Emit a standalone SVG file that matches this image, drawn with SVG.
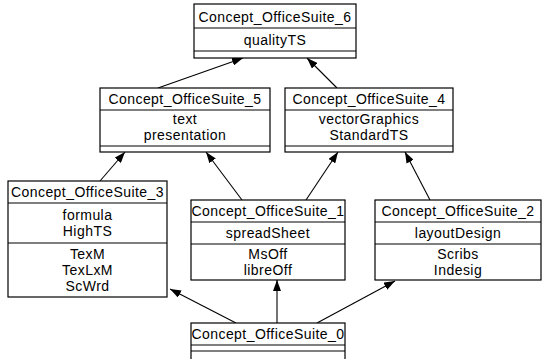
<svg xmlns="http://www.w3.org/2000/svg" width="544" height="359" viewBox="0 0 544 359">
<defs>
<marker id="ah" viewBox="0 0 11 8" refX="11" refY="4" markerWidth="11" markerHeight="8" markerUnits="userSpaceOnUse" orient="auto">
<path d="M0,0 L11,4 L0,8 z" fill="#000"/>
</marker>
<style>
rect{fill:#fff;stroke:#000;stroke-width:1.2}
line.s{stroke:#000;stroke-width:1.2}
text{font-family:"Liberation Sans",Arial,sans-serif;font-size:14px;letter-spacing:0.45px;fill:#000;text-anchor:middle}
#edges line{stroke:#000;stroke-width:1.1;marker-end:url(#ah)}
</style>
</defs>
<rect x="0" y="0" width="544" height="359" style="stroke:none"/>
<g id="edges">
<line x1="158" y1="88" x2="243" y2="58"/>
<line x1="337" y1="88" x2="307" y2="58"/>
<line x1="100" y1="181" x2="125" y2="152"/>
<line x1="242" y1="200" x2="206" y2="152"/>
<line x1="306" y1="200" x2="338" y2="152"/>
<line x1="430" y1="200" x2="405" y2="152"/>
<line x1="236" y1="323" x2="170" y2="289"/>
<line x1="277" y1="323" x2="277" y2="280"/>
<line x1="317" y1="323" x2="395" y2="281"/>
</g>
<g id="node6">
<rect x="194" y="4" width="162" height="54"/>
<line class="s" x1="194" y1="28" x2="356" y2="28"/>
<line class="s" x1="194" y1="51" x2="356" y2="51"/>
<text x="275" y="21.5">Concept_OfficeSuite_6</text>
<text x="275" y="44.5">qualityTS</text>
</g>
<g id="node5">
<rect x="100" y="88" width="170" height="64"/>
<line class="s" x1="100" y1="110" x2="270" y2="110"/>
<line class="s" x1="100" y1="146" x2="270" y2="146"/>
<text x="185" y="104">Concept_OfficeSuite_5</text>
<text x="185" y="124">text</text>
<text x="185" y="140">presentation</text>
</g>
<g id="node4">
<rect x="285" y="88" width="168" height="64"/>
<line class="s" x1="285" y1="110" x2="453" y2="110"/>
<line class="s" x1="285" y1="146" x2="453" y2="146"/>
<text x="369" y="104">Concept_OfficeSuite_4</text>
<text x="369" y="124">vectorGraphics</text>
<text x="369" y="140">StandardTS</text>
</g>
<g id="node3">
<rect x="8" y="181" width="159" height="116"/>
<line class="s" x1="8" y1="203" x2="167" y2="203"/>
<line class="s" x1="8" y1="243" x2="167" y2="243"/>
<text x="87.5" y="197">Concept_OfficeSuite_3</text>
<text x="87.5" y="220">formula</text>
<text x="87.5" y="236">HighTS</text>
<text x="87.5" y="259">TexM</text>
<text x="87.5" y="275">TexLxM</text>
<text x="87.5" y="291">ScWrd</text>
</g>
<g id="node1">
<rect x="191" y="200" width="154" height="80"/>
<line class="s" x1="191" y1="222" x2="345" y2="222"/>
<line class="s" x1="191" y1="244" x2="345" y2="244"/>
<text x="268" y="216">Concept_OfficeSuite_1</text>
<text x="268" y="238">spreadSheet</text>
<text x="268" y="259">MsOff</text>
<text x="268" y="275">libreOff</text>
</g>
<g id="node2">
<rect x="375" y="200" width="166" height="80"/>
<line class="s" x1="375" y1="222" x2="541" y2="222"/>
<line class="s" x1="375" y1="244" x2="541" y2="244"/>
<text x="458" y="216">Concept_OfficeSuite_2</text>
<text x="458" y="238">layoutDesign</text>
<text x="458" y="259">Scribs</text>
<text x="458" y="275">Indesig</text>
</g>
<g id="node0">
<rect x="191" y="323" width="154" height="50"/>
<line class="s" x1="191" y1="345" x2="345" y2="345"/>
<line class="s" x1="191" y1="351" x2="345" y2="351"/>
<text x="268" y="339">Concept_OfficeSuite_0</text>
</g>
</svg>
